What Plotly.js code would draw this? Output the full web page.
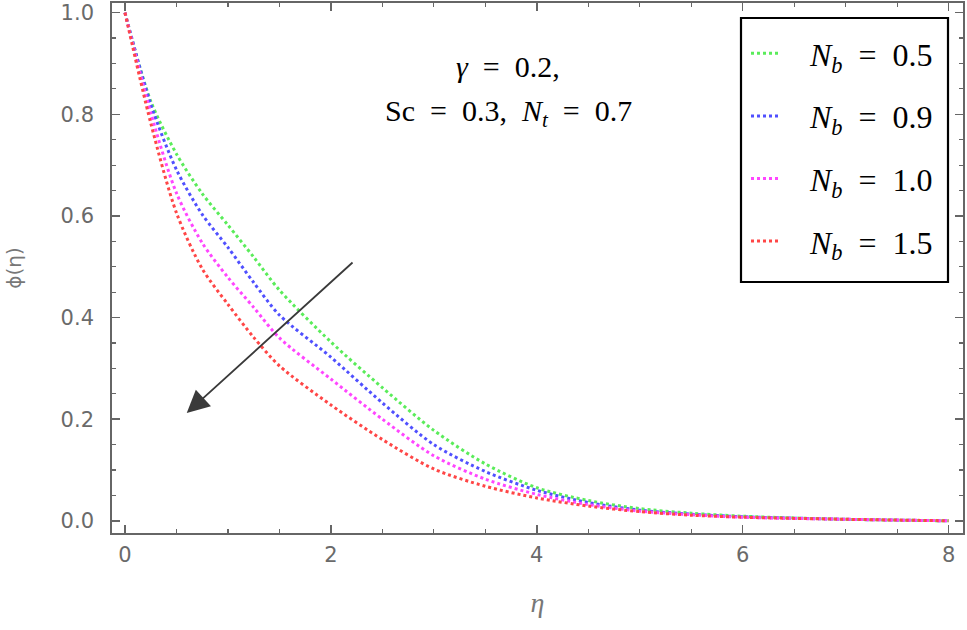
<!DOCTYPE html>
<html>
<head>
<meta charset="utf-8">
<script src="https://cdn.plot.ly/plotly-3.0.1.min.js"></script>
<style>html,body{margin:0;padding:0;background:#fff;}#chart{width:967px;height:630px;}</style>
</head>
<body>
<div id="chart"></div>
<script>
// eta grid (x) and phi(eta) values
const eta = [0, 0.25, 0.5, 0.75, 1, 1.25, 1.5, 2, 2.5, 3, 3.5, 4, 4.5, 5, 5.5, 6, 7, 8];
const phiNb05 = [1, 0.826, 0.722, 0.644, 0.582, 0.519, 0.454, 0.352, 0.262, 0.178, 0.112, 0.065, 0.040, 0.024, 0.015, 0.009, 0.003, 0.0];
const phiNb09 = [1, 0.820, 0.691, 0.603, 0.538, 0.469, 0.405, 0.322, 0.232, 0.150, 0.097, 0.060, 0.036, 0.021, 0.013, 0.008, 0.003, 0.0];
const phiNb10 = [1, 0.803, 0.645, 0.547, 0.479, 0.420, 0.360, 0.279, 0.200, 0.128, 0.082, 0.052, 0.032, 0.019, 0.012, 0.007, 0.003, 0.0];
const phiNb15 = [1, 0.783, 0.606, 0.496, 0.426, 0.361, 0.305, 0.228, 0.160, 0.102, 0.068, 0.045, 0.029, 0.018, 0.011, 0.007, 0.003, 0.0];
const nbValues = ['0.5', '0.9', '1.0', '1.5'];
const seriesColors = ['rgb(90,236,90)', 'rgb(80,80,255)', 'rgb(255,70,255)', 'rgb(255,70,70)'];
const xTicks = [0, 2, 4, 6, 8];
const yTicks = [0.0, 0.2, 0.4, 0.6, 0.8, 1.0];

const SP = '\u00a0 '; // wider spacing as in the reference typesetting
const SERIF = '"Liberation Serif", "Times New Roman", serif';
const seriesNames = nbValues.map(v => '\u00a0\u00a0 <i>N</i><sub><i>b</i></sub>' + SP + '=' + SP + v);
const seriesValues = [phiNb05, phiNb09, phiNb10, phiNb15];
const traces = seriesValues.map((vals, i) => ({
  x: eta, y: vals, type: 'scatter', mode: 'lines',
  name: seriesNames[i], legendgroup: 'g' + i,
  line: {color: seriesColors[i], width: 3, dash: 'dot', shape: 'spline', smoothing: 0.8}
}));

const axisCommon = {
  showline: true, linecolor: '#666', linewidth: 1.8, mirror: 'ticks',
  ticks: 'inside', ticklen: 8, tickwidth: 1.5, tickcolor: '#666',
  showgrid: false, zeroline: false,
  tickfont: {family: '"DejaVu Sans", sans-serif', size: 21, color: '#6a6a6a'},
};

const px2paperX = p => (p - 112) / 851;
const px2paperY = p => (533 - p) / 530;

const layout = {
  width: 967, height: 630,
  margin: {l: 112, r: 4, t: 3, b: 97},
  paper_bgcolor: '#fff', plot_bgcolor: '#fff',
  showlegend: true,
  legend: {
    x: px2paperX(746), y: px2paperY(26), xanchor: 'left', yanchor: 'top',
    borderwidth: 0, bgcolor: 'rgba(0,0,0,0)',
    font: {family: SERIF, size: 32, color: '#000'},
    traceorder: 'grouped', tracegroupgap: 18, itemwidth: 30
  },
  xaxis: Object.assign({}, axisCommon, {
    range: [-0.126, 8.14], tickvals: xTicks, ticktext: xTicks.map(String),
    minor: {dtick: 0.5, ticklen: 4, tickwidth: 1.2, tickcolor: '#666', ticks: 'inside'},
    ticklabelstandoff: 2,
    title: {text: '<i>η</i>', font: {family: SERIF, size: 28, color: '#777'}, standoff: 26}
  }),
  yaxis: Object.assign({}, axisCommon, {
    range: [-0.024, 1.019], tickvals: yTicks, ticktext: yTicks.map(v => v.toFixed(1)),
    minor: {dtick: 0.05, ticklen: 4, tickwidth: 1.2, tickcolor: '#666', ticks: 'inside'},
    ticklabelstandoff: 12,
    title: {text: 'ϕ(η)', font: {family: '"DejaVu Sans", sans-serif', size: 20, color: '#777'}, standoff: 33}
  }),
  shapes: [
    {type: 'rect', xref: 'paper', yref: 'paper', x0: px2paperX(741), x1: px2paperX(948), y0: px2paperY(282), y1: px2paperY(18),
     line: {color: '#000', width: 2.2}, fillcolor: 'rgba(255,255,255,0)', layer: 'above'}
  ],
  annotations: [
    {xref: 'paper', yref: 'paper', x: px2paperX(508), y: px2paperY(67), xanchor: 'center', yanchor: 'middle', showarrow: false,
     text: '<i>γ</i>' + SP + '=' + SP + '0.2,', font: {family: SERIF, size: 30, color: '#000'}},
    {xref: 'paper', yref: 'paper', x: px2paperX(508), y: px2paperY(113), xanchor: 'center', yanchor: 'middle', showarrow: false,
     text: 'Sc' + SP + '=' + SP + '0.3,' + SP + '<i>N</i><sub><i>t</i></sub>' + SP + '=' + SP + '0.7', font: {family: SERIF, size: 30, color: '#000'}},
    {xref: 'x', yref: 'y', axref: 'x', ayref: 'y', x: 0.60, y: 0.212, ax: 2.225, ay: 0.511, text: '',
     showarrow: true, arrowhead: 2, arrowsize: 2.5, arrowwidth: 1.8, arrowcolor: '#3a3a3a', standoff: 0, startstandoff: 0}
  ]
};

Plotly.newPlot('chart', traces, layout, {displayModeBar: false, staticPlot: true});
</script>
</body>
</html>
